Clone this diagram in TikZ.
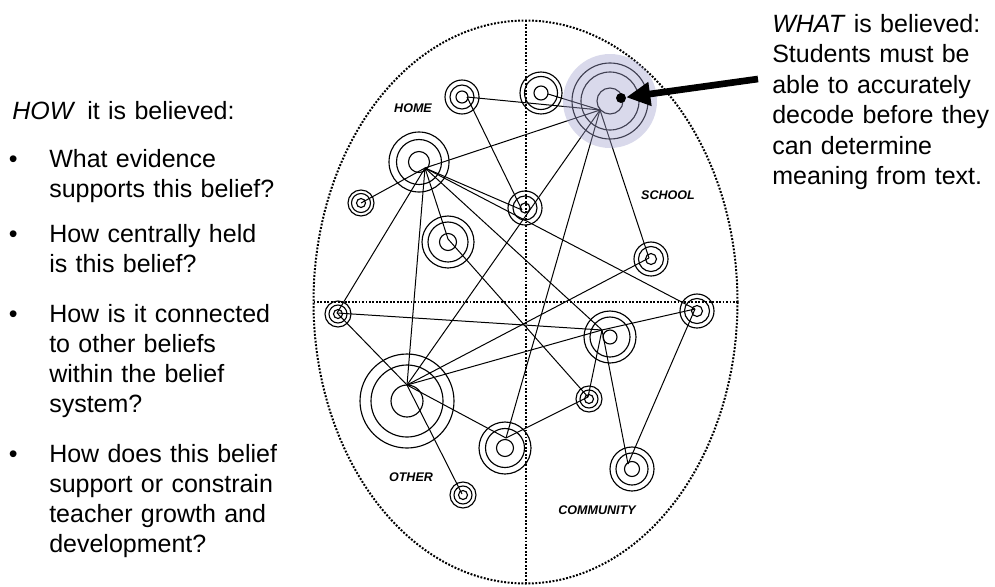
\documentclass[tikz,border=0pt]{standalone}
\usepackage{fontspec}
\setmainfont{Liberation Sans}
\usepackage{tikz}
\usetikzlibrary{arrows.meta}
\usepackage{xcolor}
\definecolor{cHalo}{RGB}{160,160,205}
\tikzset{
  ellframe/.style={line width=1.5pt, dash pattern=on 1.4pt off 1.2pt},
  ring/.style={line width=0.85pt},
  link/.style={line width=0.75pt},
  halo/.style={circle, fill=cHalo, fill opacity=0.4, inner sep=0pt},
  zonelabel/.style={font=\fontsize{9.4}{10}\selectfont\bfseries\itshape, inner sep=0pt},
  prompt/.style={font=\fontsize{18.75}{22.5}\selectfont, anchor=base west,
                 inner sep=0pt, align=left, text width=200pt},
  bulletmark/.style={font=\fontsize{18.75}{22.5}\selectfont, anchor=base west, inner sep=0pt},
  pinhead/.style={circle, fill=black, inner sep=0pt, minimum size=7.5pt},
  pointer/.style={-{Triangle[length=18pt,width=17pt]}, line width=5pt}
}
% rings of one belief: name, ring centre, hub of its links, radii
\newcommand{\belief}[4]{%
  \coordinate (#1) at (#3);
  \foreach \rad in {#4} {\draw[ring] (#2) circle[radius=\rad];}
}

\begin{document}
\begin{tikzpicture}[x=0.75pt, y=-0.75pt]
  \useasboundingbox (0,0) rectangle (995,586);

  \draw[ellframe] (525.5,302) ellipse[x radius=212, y radius=281.5];
  \draw[ellframe] (525.5,20.5) -- (525.5,583.5);
  \draw[ellframe] (313.5,302) -- (737.5,302);

  \belief{homeTop}{462,97}{467,97}{6,12,17}
  \belief{homeNext}{541,93}{548,94}{7,16.5,21}
  \belief{what}{610,101}{600,110}{13,29,38}
  \belief{home}{419,162}{425,168}{10.5,22.5,30}
  \belief{homeSmall}{361,203}{361,203}{4.5,9.5,13}
  \belief{seam}{525,208}{522,210}{5,12,17}
  \belief{homeLow}{448,242}{448,239}{8.5,20,26}
  \belief{school}{651,259}{649,258}{5.5,12.5,17}
  \belief{otherLeft}{338,314}{337,313}{4.5,9,13}
  \belief{other}{407,401}{407,385}{16,36,47}
  \belief{otherMid}{505,448}{506,438}{8.5,19.5,26}
  \belief{otherSmall}{463,495}{462,494}{4.5,9,13}
  \belief{community}{610,337}{602,330}{7,20,26}
  \belief{communityRight}{697,311}{695,309}{5.5,12.5,17}
  \belief{communitySmall}{589,399}{588,397}{4.5,9,13}
  \belief{communityLow}{632,469}{628,464}{7.5,16,22}

  \foreach \a/\b in {homeTop/what, homeTop/seam, homeNext/what, home/what,
      home/homeSmall, home/seam, home/communityRight, home/otherLeft,
      home/other, home/homeLow, home/community, homeLow/communitySmall,
      other/what, what/otherMid, what/school, school/other,
      otherLeft/community, otherLeft/other, other/otherSmall,
      other/community, other/otherMid, community/communityRight,
      community/communitySmall, community/communityLow,
      communityRight/communityLow, otherMid/communitySmall}
    \draw[link] (\a) -- (\b);

  \node[halo, minimum size=70.5pt] (whatHalo) at (610,101) {};
  \node[pinhead] (whatPin) at (621,98) {};
  \coordinate (whatTail) at (758,79);
  \draw[pointer] (whatTail) -- (whatPin);

  \node[zonelabel] (homeLabel) at (413,108) {HOME};
  \node[zonelabel] (schoolLabel) at (668,195) {SCHOOL};
  \node[zonelabel] (otherLabel) at (411,477) {OTHER};
  \node[zonelabel] (communityLabel) at (597,510) {COMMUNITY};

  \node[prompt] (howHead) at (12,119) {\textit{HOW}\hspace{9pt}it is believed:};
  \foreach \y in {167,242,322,462}
    \node[bulletmark] (dot\y) at (8.5,\y) {\textbullet};
  \node[prompt] (howEvidence) at (49,167) {What evidence\\supports this belief?};
  \node[prompt] (howCentral) at (49,242) {How centrally held\\is this belief?};
  \node[prompt] (howLinked) at (49,322) {How is it connected\\to other beliefs\\within the belief\\system?};
  \node[prompt] (howGrowth) at (49,462) {How does this belief\\support or constrain\\teacher growth and\\development?};

  \node[prompt, font=\fontsize{18.75}{22.9}\selectfont] (whatText) at (772,32)
    {\textit{WHAT} is believed:\\Students must be\\able to accurately\\decode before they\\can determine\\meaning from text.};
\end{tikzpicture}
\end{document}
